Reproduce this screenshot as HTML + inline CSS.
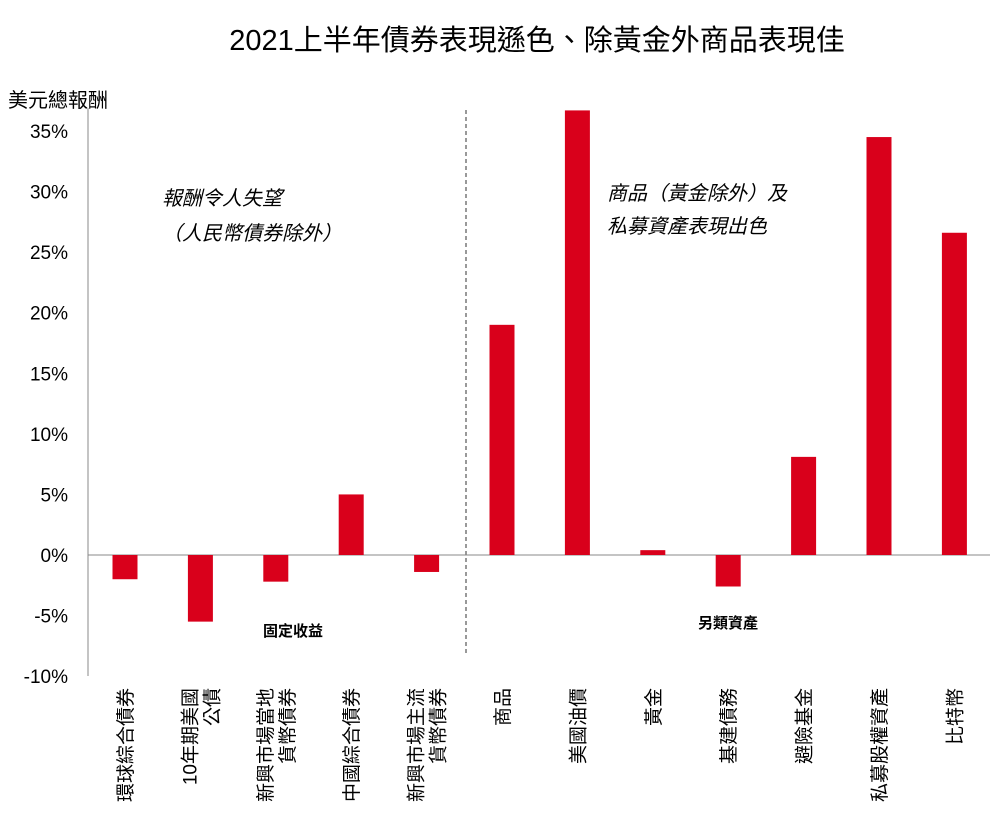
<!DOCTYPE html>
<html><head><meta charset="utf-8"><style>
body{margin:0;background:#fff;width:996px;height:817px;overflow:hidden}
svg text{font-family:"Liberation Sans","Noto Sans CJK TC",sans-serif;fill:#000}
</style></head><body>
<svg id="chart" width="996" height="817" xmlns="http://www.w3.org/2000/svg">
<text x="537" y="50" font-size="29" text-anchor="middle">2021上半年債券表現遜色、除黃金外商品表現佳</text>
<text x="8" y="107" font-size="20">美元總報酬</text>
<line x1="88" y1="108" x2="88" y2="676" stroke="#888" stroke-width="1"/>
<line x1="466" y1="110" x2="466" y2="655" stroke="#333" stroke-width="1" stroke-dasharray="4,3"/>
<text font-size="20" font-style="italic"><tspan x="162" y="205">報酬令人失望</tspan><tspan x="162" y="240">（人民幣債券除外）</tspan></text>
<text font-size="20" font-style="italic"><tspan x="607" y="200">商品（黃金除外）及</tspan><tspan x="607" y="233">私募資產表現出色</tspan></text>
<text x="293" y="636" font-size="15" font-weight="bold" text-anchor="middle">固定收益</text>
<text x="728" y="628" font-size="15" font-weight="bold" text-anchor="middle">另類資產</text>
<g id="ticks"></g><g id="bars"></g><g id="labels"></g>
</svg>
<script>
const categories=[["環球綜合債券"],["10年期美國","公債"],["新興市場當地","貨幣債券"],["中國綜合債券"],["新興市場主流","貨幣債券"],["商品"],["美國油價"],["黃金"],["基建債務"],["避險基金"],["私募股權資產"],["比特幣"]];
const values=[-2.0,-5.5,-2.2,5.0,-1.4,19.0,36.7,0.4,-2.6,8.1,34.5,26.6];
const tickValues=[35,30,25,20,15,10,5,0,-5,-10];
const tickLabels=["35%","30%","25%","20%","15%","10%","5%","0%","-5%","-10%"];
const NS="http://www.w3.org/2000/svg";
const y=v=>555-v*(424/35);
const x=i=>125+i*75.4;
const tg=document.getElementById('ticks'),bg=document.getElementById('bars'),lg=document.getElementById('labels');
tickValues.forEach((v,i)=>{const t=document.createElementNS(NS,'text');


t.setAttribute('x',68);t.setAttribute('y',y(v)+7);t.setAttribute('font-size','19');t.setAttribute('text-anchor','end');t.textContent=tickLabels[i];tg.appendChild(t);});
const zl=document.createElementNS(NS,'line');


zl.setAttribute('x1',88);zl.setAttribute('x2',990);zl.setAttribute('y1',y(0));zl.setAttribute('y2',y(0));zl.setAttribute('stroke','#888');tg.appendChild(zl);
values.forEach((v,i)=>{const r=document.createElementNS(NS,'rect');


r.setAttribute('x',x(i)-12.5);r.setAttribute('width',25);r.setAttribute('y',Math.min(y(v),y(0)));r.setAttribute('height',Math.abs(y(v)-y(0)));r.setAttribute('fill','#d9001b');bg.appendChild(r);
const lines=categories[i];const n=lines.length;
lines.forEach((s,k)=>{const t=document.createElementNS(NS,'text');


const cx=x(i)+(k-(n-1)/2)*22+7;
t.setAttribute('transform','translate('+cx+',688) rotate(-90)');t.setAttribute('text-anchor','end');t.setAttribute('font-size','19');t.textContent=s;lg.appendChild(t);});});
</script>
</body></html>
